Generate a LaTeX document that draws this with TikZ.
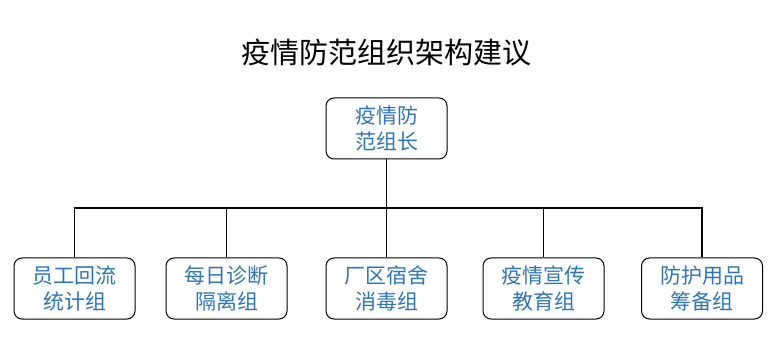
\documentclass[tikz,border=0pt]{standalone}
\usepackage{fontspec}
\usepackage{tikz}
\usetikzlibrary{positioning}
\setmainfont{Noto Sans CJK SC}
\definecolor{groupcolor}{RGB}{46, 117, 182}

\begin{document}
\begin{tikzpicture}[
    x=1pt, y=-1pt,
    box/.style={rectangle, draw, line width=1pt, minimum width=121pt, minimum height=61pt, rounded corners=8pt, align=center, text=groupcolor, font=\fontsize{21}{26}\selectfont},
    link/.style={line width=1.5pt}
]
\useasboundingbox (0,0) rectangle (778,352);

% Title
\node[font=\fontsize{29}{34}\selectfont] (title) at (386,52) {疫情防范组织架构建议};

% Leader
\node[box] (lead) at (386.5,128.5) {疫情防\\范组长};

% Groups
\node[box] (tally) at (74.5,288.5) {员工回流\\统计组};
\node[box] (triage) at (226.5,288.5) {每日诊断\\隔离组};
\node[box] (disinfect) at (386.5,288.5) {厂区宿舍\\消毒组};
\node[box] (publicity) at (543.5,288.5) {疫情宣传\\教育组};
\node[box] (supply) at (702,288.5) {防护用品\\筹备组};

% Connectors
\coordinate (bus) at (386.5,208);
\draw[link] (lead) -- (bus);
\draw[link] (bus) -| (tally.north);
\draw[link] (bus) -| (triage.north);
\draw[link] (bus) -- (disinfect.north);
\draw[link] (bus) -| (publicity.north);
\draw[link] (bus) -| (supply.north);

\end{tikzpicture}
\end{document}
